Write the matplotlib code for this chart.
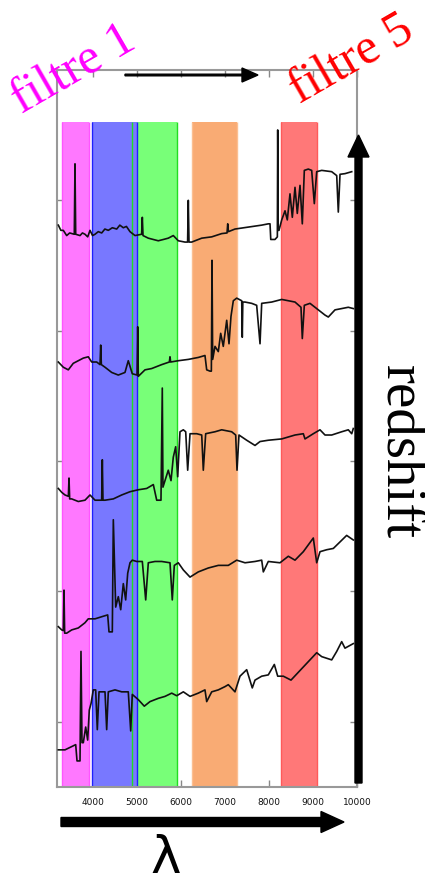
import matplotlib
matplotlib.use("Agg")
import matplotlib.pyplot as plt
from matplotlib.patches import FancyArrow

# filter bands (wavelength, Angstrom)
FILTER_LO = [3296, 3977, 4886, 6243, 8266]
FILTER_HI = [3909, 4999, 5909, 7280, 9098]
BAND_TOP = 4.6

XTICKS = [4000, 5000, 6000, 7000, 8000, 9000, 10000]
XTICK_LABELS = ["4000", "5000", "6000", "7000", "8000", "9000", "10000"]
YTICKS = [0, 1, 2, 3, 4]

# vertical offset of each spectrum in the stack (top = highest redshift)
OFFSETS = [3, 2, 1, 0, -1]

WAVE_1 = [3212, 3270, 3325, 3402, 3470, 3575, 3591, 3607, 3705, 3760, 3818, 3880, 3932, 3990,
          4046, 4120, 4198, 4270, 4348, 4440, 4539, 4610, 4689, 4760, 4841, 4955, 5105, 5121,
          5137, 5257, 5370, 5484, 5600, 5711, 5825, 5939, 6091, 6150, 6166, 6182, 6243, 6471,
          6698, 6925, 7046, 7062, 7078, 7227, 7530, 7834, 7984, 8023, 8040, 8136, 8190, 8198,
          8210, 8227, 8289, 8364, 8416, 8477, 8530, 8591, 8643, 8705, 8757, 8803, 8893, 8970,
          9030, 9084, 9198, 9425, 9539, 9575, 9614, 9727, 9880]
FLUX_1 = [0.81, 0.77, 0.77, 0.73, 0.75, 0.74, 1.28, 0.74, 0.73, 0.75, 0.74, 0.72, 0.77, 0.73,
          0.74, 0.76, 0.75, 0.78, 0.77, 0.79, 0.78, 0.81, 0.79, 0.80, 0.76, 0.73, 0.74, 0.87,
          0.73, 0.71, 0.70, 0.69, 0.70, 0.71, 0.73, 0.69, 0.68, 0.68, 1.00, 0.68, 0.68, 0.71,
          0.72, 0.745, 0.75, 0.82, 0.76, 0.78, 0.795, 0.81, 0.82, 0.82, 0.70, 0.70, 0.72, 1.54,
          0.77, 0.77, 0.85, 0.92, 0.85, 1.05, 0.87, 1.10, 0.90, 1.115, 0.82, 1.23, 1.24, 1.23,
          0.975, 1.22, 1.23, 1.22, 1.19, 0.91, 1.20, 1.205, 1.22]

WAVE_2 = [3212, 3325, 3439, 3552, 3666, 3780, 3893, 3970, 4084, 4160, 4175, 4190, 4273, 4425,
          4575, 4727, 4802, 4893, 5001, 5016, 5030, 5182, 5334, 5561, 5735, 5750, 5765, 5939,
          6166, 6393, 6545, 6584, 6659, 6690, 6705, 6720, 6773, 6848, 6902, 6961, 7039, 7091,
          7136, 7189, 7266, 7380, 7393, 7405, 7455, 7607, 7720, 7796, 7834, 8061, 8289, 8591,
          8727, 8757, 8803, 8932, 9121, 9273, 9348, 9500, 9652, 9802, 9916]
FLUX_2 = [0.76, 0.72, 0.70, 0.75, 0.77, 0.79, 0.80, 0.76, 0.76, 0.74, 0.89, 0.74, 0.72, 0.68,
          0.66, 0.68, 0.77, 0.67, 0.66, 1.03, 0.65, 0.70, 0.71, 0.74, 0.76, 0.80, 0.76, 0.77,
          0.78, 0.795, 0.81, 0.70, 0.69, 0.69, 1.54, 0.78, 0.88, 0.84, 0.98, 0.88, 1.08, 0.90,
          1.11, 1.23, 1.25, 1.23, 0.95, 1.22, 1.22, 1.21, 1.195, 0.90, 1.21, 1.22, 1.24, 1.22,
          1.18, 0.94, 1.195, 1.21, 1.16, 1.12, 1.105, 1.16, 1.17, 1.18, 1.17]

WAVE_3 = [3212, 3290, 3364, 3440, 3455, 3470, 3516, 3666, 3818, 3932, 4046, 4197, 4212, 4227,
          4273, 4462, 4652, 4841, 5030, 5220, 5371, 5448, 5545, 5575, 5590, 5636, 5711, 5773,
          5825, 5879, 5925, 5977, 6053, 6107, 6152, 6205, 6357, 6471, 6507, 6561, 6773, 6925,
          7152, 7243, 7273, 7318, 7493, 7682, 7796, 7984, 8289, 8591, 8780, 8818, 9007, 9159,
          9273, 9425, 9652, 9802, 9880, 9916]
FLUX_3 = [0.79, 0.76, 0.74, 0.73, 0.87, 0.71, 0.71, 0.69, 0.70, 0.74, 0.70, 0.70, 1.01, 0.70,
          0.70, 0.71, 0.74, 0.765, 0.78, 0.79, 0.82, 0.70, 0.70, 1.56, 0.80, 0.85, 0.93, 0.85,
          1.03, 1.11, 0.88, 1.225, 1.24, 1.225, 0.93, 1.21, 1.21, 1.20, 0.93, 1.21, 1.225, 1.24,
          1.225, 1.20, 0.93, 1.20, 1.16, 1.12, 1.15, 1.16, 1.17, 1.20, 1.21, 1.17, 1.21, 1.24,
          1.20, 1.20, 1.225, 1.24, 1.21, 1.25]

WAVE_4 = [3212, 3289, 3326, 3341, 3356, 3402, 3516, 3666, 3818, 3893, 4046, 4235, 4334, 4364,
          4439, 4462, 4516, 4575, 4630, 4689, 4743, 4789, 4841, 4893, 4993, 5121, 5198, 5257,
          5409, 5561, 5750, 5802, 5848, 5939, 6053, 6205, 6393, 6621, 6848, 7075, 7266, 7455,
          7682, 7834, 7871, 7984, 8250, 8439, 8591, 8780, 9007, 9084, 9159, 9311, 9462, 9614,
          9765, 9916]
FLUX_4 = [0.73, 0.705, 0.70, 1.01, 0.68, 0.68, 0.705, 0.72, 0.76, 0.79, 0.79, 0.81, 0.82, 0.69,
          0.69, 1.55, 0.88, 0.96, 0.86, 1.06, 0.935, 1.14, 1.22, 1.24, 1.23, 1.23, 0.935, 1.22,
          1.23, 1.23, 1.22, 0.935, 1.20, 1.22, 1.165, 1.11, 1.15, 1.18, 1.20, 1.20, 1.24, 1.22,
          1.23, 1.24, 1.15, 1.23, 1.22, 1.27, 1.24, 1.305, 1.41, 1.22, 1.305, 1.32, 1.33, 1.38,
          1.43, 1.395]

WAVE_5 = [3212, 3364, 3516, 3607, 3637, 3705, 3727, 3750, 3780, 3834, 3879, 3916, 3955, 4007,
          4061, 4098, 4137, 4273, 4311, 4348, 4500, 4652, 4802, 4857, 4893, 5030, 5166, 5295,
          5484, 5636, 5789, 5902, 6053, 6205, 6393, 6545, 6584, 6698, 6848, 7000, 7075, 7227,
          7341, 7493, 7620, 7682, 7834, 7984, 8121, 8198, 8325, 8500, 9084, 9198, 9425, 9539,
          9652, 9727, 9916]
FLUX_5 = [0.785, 0.785, 0.81, 0.825, 0.70, 0.70, 1.54, 0.84, 0.84, 0.96, 0.86, 1.09, 1.14, 1.245,
          1.245, 0.94, 1.23, 1.23, 0.94, 1.23, 1.245, 1.23, 1.23, 0.93, 1.21, 1.17, 1.12, 1.155,
          1.18, 1.195, 1.22, 1.20, 1.23, 1.195, 1.22, 1.245, 1.155, 1.23, 1.245, 1.27, 1.285, 1.23,
          1.35, 1.40, 1.26, 1.32, 1.35, 1.36, 1.44, 1.35, 1.35, 1.32, 1.53, 1.50, 1.475, 1.54,
          1.615, 1.565, 1.60]

SPECTRA = [(WAVE_1, FLUX_1), (WAVE_2, FLUX_2), (WAVE_3, FLUX_3), (WAVE_4, FLUX_4), (WAVE_5, FLUX_5)]

FILL_COLORS = ["#ff78ff", "#7878ff", "#78ff78", "#f9ab74", "#ff7878"]
EDGE_COLORS = ["#ff55ff", "#1f1fff", "#22dd22", "#fbbf92", "#ff5a5a"]
FILL_ORDER = [0, 2, 1, 3, 4]

W, H = 425, 885
fig = plt.figure(figsize=(W / 100, H / 100), dpi=100)
ax = fig.add_axes([57 / W, 1 - 787 / H, 300 / W, 717 / H])
ax.set_xlim(3182, 10000)
ax.set_ylim(-0.5, 5.0)
ax.set_axisbelow(True)

y0 = ax.get_ylim()[0]
for i in FILL_ORDER:
    ax.bar(FILTER_LO[i], BAND_TOP - y0, width=FILTER_HI[i] - FILTER_LO[i], bottom=y0,
           align="edge", color=FILL_COLORS[i], edgecolor="none", zorder=1)
for i in range(5):
    ax.vlines([FILTER_LO[i], FILTER_HI[i]], y0, BAND_TOP, colors=EDGE_COLORS[i], lw=1.0, zorder=1.5)

for (wave, flux), off in zip(SPECTRA, OFFSETS):
    ax.plot(wave, [f + off for f in flux], color="#111111", lw=1.2, zorder=3)

ax.set_xticks(XTICKS)
ax.set_xticklabels(XTICK_LABELS)
ax.set_yticks(YTICKS)
ax.set_yticklabels([])
ax.tick_params(direction="in", length=5, width=1, color="#888888", top=True, right=True,
               labelsize=6.5, labelcolor="#111111", pad=8)
for sp in ax.spines.values():
    sp.set_color("#999999")
    sp.set_linewidth(1.5)

inch = fig.dpi_scale_trans


def arrow(x0, y0p, x1, y1p, width, hw, hl):
    a = FancyArrow(x0 / 100, (H - y0p) / 100, (x1 - x0) / 100, (y0p - y1p) / 100,
                   width=width / 100, head_width=hw / 100, head_length=hl / 100,
                   length_includes_head=True, color="black", transform=inch, zorder=10)
    fig.add_artist(a)


arrow(358.5, 783, 358.5, 135, 7, 21, 22)   # redshift arrow
arrow(61, 822, 344, 822, 9, 21, 23)        # wavelength arrow
arrow(125, 75, 258, 75, 1.6, 14, 16)       # thin arrow at top

fig.text(74 / W, 1 - 70 / H, "filtre 1", color="#ff00ff", fontsize=36, rotation=30,
         family="Liberation Serif", ha="center", va="center")
fig.text(352 / W, 1 - 60 / H, "filtre 5", color="#ff0000", fontsize=36, rotation=30,
         family="Liberation Serif", ha="center", va="center")
fig.text(400 / W, 1 - 452 / H, "redshift", color="black", fontsize=41, rotation=270,
         family="Liberation Serif", ha="center", va="center")
fig.text(166 / W, 1 - 884 / H, "λ", color="black", fontsize=37, family="DejaVu Sans",
         ha="center", va="bottom")

fig.savefig("out.png", dpi=100)
